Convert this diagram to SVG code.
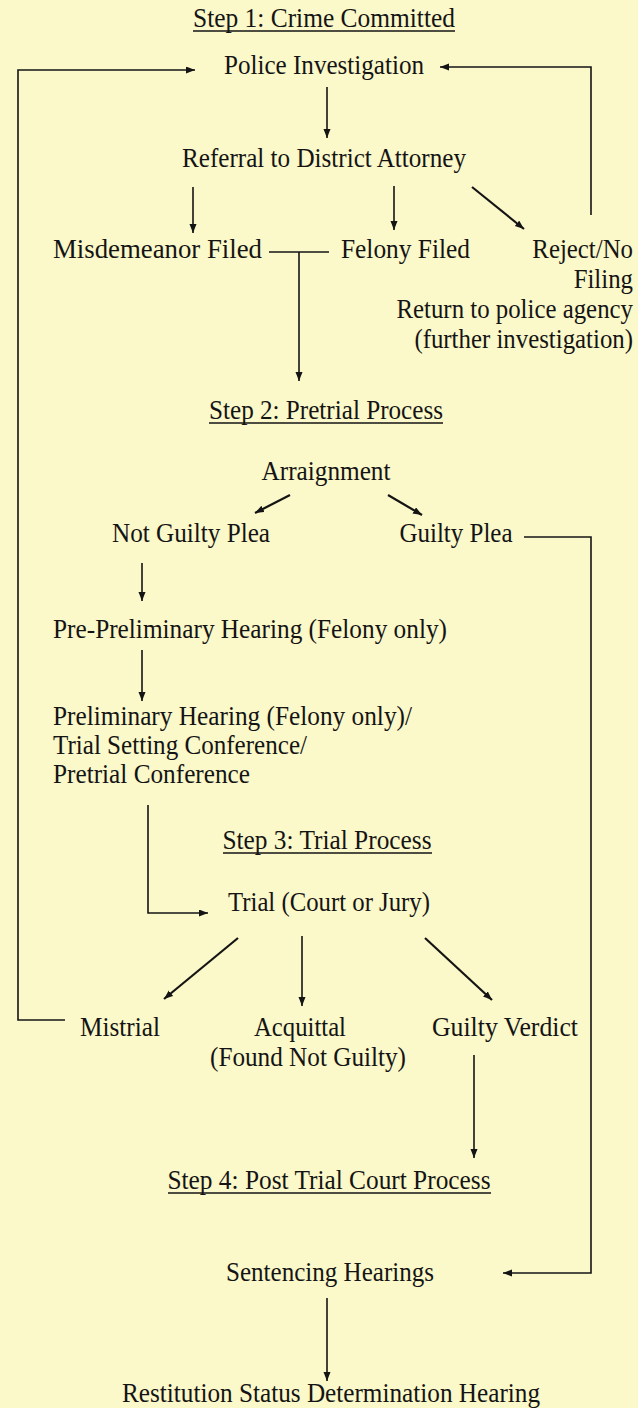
<svg xmlns="http://www.w3.org/2000/svg" width="638" height="1408" viewBox="0 0 638 1408">
<defs>
<marker id="ah" markerUnits="userSpaceOnUse" markerWidth="10" markerHeight="8" refX="9" refY="3.5" orient="auto">
<path d="M0,0 L9,3.5 L0,7 z" fill="#141414"/>
</marker>
<style>
.t{font-family:"Liberation Serif","Times New Roman",serif;font-size:27px;fill:#141414}
.c{text-anchor:middle}
.e{text-anchor:end}
.ln{fill:none;stroke:#141414;stroke-width:1.6}
.ar{fill:none;stroke:#141414;stroke-width:1.6;marker-end:url(#ah)}
.dg{fill:none;stroke:#141414;stroke-width:2.2;marker-end:url(#ah)}
.ul{stroke:#141414;stroke-width:1.3}
</style>
</defs>
<rect width="638" height="1408" fill="#FBF8C9"/>
<g id="connectors">
<polyline class="ar" points="65,1020 18,1020 18,70 195,70"/>
<polyline class="ar" points="591,215 591,67 440,67"/>
<line class="ar" x1="327" y1="87" x2="327" y2="138"/>
<line class="ar" x1="193" y1="187" x2="193" y2="233"/>
<line class="ar" x1="394" y1="186" x2="394" y2="230"/>
<line class="dg" x1="472" y1="187" x2="524" y2="229"/>
<line class="ln" x1="269" y1="252" x2="329" y2="252"/>
<line class="ar" x1="299" y1="252" x2="299" y2="381"/>
<line class="dg" x1="290" y1="495" x2="255" y2="513"/>
<line class="dg" x1="388" y1="495" x2="422" y2="515"/>
<polyline class="ar" points="524,537 591,537 591,1273 503,1273"/>
<line class="ar" x1="142" y1="563" x2="142" y2="601"/>
<line class="ar" x1="142" y1="650" x2="142" y2="701"/>
<polyline class="ar" points="148,805 148,913 208,913"/>
<line class="dg" x1="238" y1="938" x2="164" y2="999"/>
<line class="ar" x1="302" y1="936" x2="302" y2="1006"/>
<line class="dg" x1="425" y1="938" x2="492" y2="1000"/>
<line class="ar" x1="474" y1="1055" x2="474" y2="1158"/>
<line class="ar" x1="327" y1="1298" x2="327" y2="1381"/>
</g>
<g id="step1">
<text class="t c" x="324" y="27" textLength="262" lengthAdjust="spacingAndGlyphs">Step 1: Crime Committed</text>
<line class="ul" x1="193" y1="31" x2="455" y2="31"/>
</g>
<g id="police"><text class="t c" x="324" y="74" textLength="200" lengthAdjust="spacingAndGlyphs">Police Investigation</text></g>
<g id="referral"><text class="t c" x="324" y="167" textLength="284" lengthAdjust="spacingAndGlyphs">Referral to District Attorney</text></g>
<g id="misdemeanor"><text class="t" x="53" y="258" textLength="209" lengthAdjust="spacingAndGlyphs">Misdemeanor  Filed</text></g>
<g id="felony"><text class="t" x="341" y="258" textLength="129" lengthAdjust="spacingAndGlyphs">Felony Filed</text></g>
<g id="reject" transform="translate(633,0) scale(0.92,1)">
<text class="t e" x="0" y="258">Reject/No</text>
<text class="t e" x="0" y="288">Filing</text>
<text class="t e" x="0" y="318">Return to police agency</text>
<text class="t e" x="0" y="348">(further investigation)</text>
</g>
<g id="step2">
<text class="t c" x="326" y="419" textLength="234" lengthAdjust="spacingAndGlyphs">Step 2: Pretrial Process</text>
<line class="ul" x1="209" y1="423" x2="443" y2="423"/>
</g>
<g id="arraignment"><text class="t c" x="326" y="480" textLength="129" lengthAdjust="spacingAndGlyphs">Arraignment</text></g>
<g id="notguilty"><text class="t c" x="191" y="542" textLength="158" lengthAdjust="spacingAndGlyphs">Not Guilty Plea</text></g>
<g id="guiltyplea"><text class="t c" x="456" y="542" textLength="113" lengthAdjust="spacingAndGlyphs">Guilty Plea</text></g>
<g id="preprelim"><text class="t" x="53" y="638" textLength="394" lengthAdjust="spacingAndGlyphs">Pre-Preliminary Hearing (Felony only)</text></g>
<g id="prelim">
<text class="t" x="53" y="725" textLength="359" lengthAdjust="spacingAndGlyphs">Preliminary Hearing (Felony only)/</text>
<text class="t" x="53" y="754" textLength="254" lengthAdjust="spacingAndGlyphs">Trial Setting Conference/</text>
<text class="t" x="53" y="783" textLength="197" lengthAdjust="spacingAndGlyphs">Pretrial Conference</text>
</g>
<g id="step3">
<text class="t c" x="327" y="849" textLength="209" lengthAdjust="spacingAndGlyphs">Step 3: Trial Process</text>
<line class="ul" x1="223" y1="853" x2="432" y2="853"/>
</g>
<g id="trial"><text class="t c" x="329" y="911" textLength="202" lengthAdjust="spacingAndGlyphs">Trial (Court or Jury)</text></g>
<g id="mistrial"><text class="t c" x="120" y="1036" textLength="80" lengthAdjust="spacingAndGlyphs">Mistrial</text></g>
<g id="acquittal">
<text class="t c" x="300" y="1036" textLength="92" lengthAdjust="spacingAndGlyphs">Acquittal</text>
<text class="t c" x="308" y="1066" textLength="196" lengthAdjust="spacingAndGlyphs">(Found Not Guilty)</text>
</g>
<g id="guiltyverdict"><text class="t c" x="505" y="1036" textLength="146" lengthAdjust="spacingAndGlyphs">Guilty Verdict</text></g>
<g id="step4">
<text class="t c" x="329" y="1189" textLength="323" lengthAdjust="spacingAndGlyphs">Step 4: Post Trial Court Process</text>
<line class="ul" x1="168" y1="1193" x2="491" y2="1193"/>
</g>
<g id="sentencing"><text class="t c" x="330" y="1281" textLength="208" lengthAdjust="spacingAndGlyphs">Sentencing Hearings</text></g>
<g id="restitution"><text class="t c" x="331" y="1402" textLength="418" lengthAdjust="spacingAndGlyphs">Restitution Status Determination Hearing</text></g>
</svg>
